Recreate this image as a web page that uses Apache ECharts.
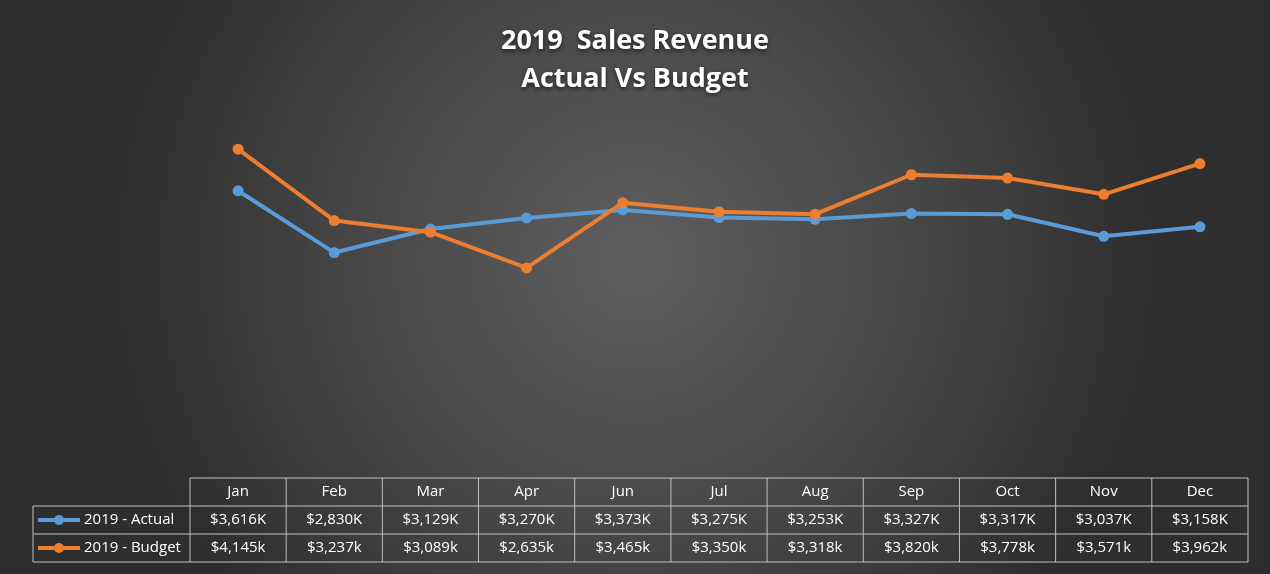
<!DOCTYPE html>
<html><head><meta charset="utf-8">
<script src="https://cdn.jsdelivr.net/npm/echarts@6/dist/echarts.min.js"></script>
<style>html,body{margin:0;padding:0;background:#333}#c{width:1270px;height:574px}</style>
</head><body><div id="c"></div>
<script>
const months = ['Jan','Feb','Mar','Apr','Jun','Jul','Aug','Sep','Oct','Nov','Dec'];
const actual = [3616,2830,3129,3270,3373,3275,3253,3327,3317,3037,3158];
const budget = [4145,3237,3089,2635,3465,3350,3318,3820,3778,3571,3962];
const actualLabels = ['$3,616K','$2,830K','$3,129K','$3,270K','$3,373K','$3,275K','$3,253K','$3,327K','$3,317K','$3,037K','$3,158K'];
const budgetLabels = ['$4,145k','$3,237k','$3,089k','$2,635k','$3,465k','$3,350k','$3,318k','$3,820k','$3,778k','$3,571k','$3,962k'];
const seriesNames = ['2019 - Actual','2019 - Budget'];
const colors = ['#5b9bd5','#ed7d31'];

const chart = echarts.init(document.getElementById('c'));
const L = 190, R = 1248, T0 = 478, RH = 28, LC = 33;
const cw = (R - L) / months.length;
const g = [];
const lineStyle = {stroke:'#bfbfbf', lineWidth:1};
function line(x1,y1,x2,y2){g.push({type:'line',shape:{x1,y1,x2,y2},style:lineStyle,silent:true});}
function txt(x,y,t,align){g.push({type:'text',x,y,style:{text:t,fill:'#fff',font:'15px "Open Sans", sans-serif',align:align||'center',verticalAlign:'middle'},silent:true});}
line(L,T0,R,T0);
line(LC,T0+RH,R,T0+RH);
line(LC,T0+2*RH,R,T0+2*RH);
line(LC,T0+3*RH,R,T0+3*RH);
line(LC,T0+RH,LC,T0+3*RH);
for(let i=0;i<=months.length;i++){line(L+i*cw,T0,L+i*cw,T0+3*RH);}
months.forEach((m,i)=>{
  txt(L+(i+0.5)*cw,T0+RH/2,m);
  txt(L+(i+0.5)*cw,T0+1.5*RH,actualLabels[i]);
  txt(L+(i+0.5)*cw,T0+2.5*RH,budgetLabels[i]);
});
[0,1].forEach(k=>{
  const y=T0+(1.5+k)*RH;
  g.push({type:'line',shape:{x1:38,y1:y,x2:80,y2:y},style:{stroke:colors[k],lineWidth:4},silent:true});
  g.push({type:'circle',shape:{cx:59,cy:y,r:5},style:{fill:colors[k]},silent:true});
  txt(84,y,seriesNames[k],'left');
});

chart.setOption({
  backgroundColor:{type:'radial',x:0.5,y:0.45,r:0.9,colorStops:[{offset:0,color:'#5e5e5e'},{offset:0.6,color:'#444444'},{offset:1,color:'#2e2e2e'}]},
  title:{text:'2019  Sales Revenue\nActual Vs Budget',left:'center',top:17,
    textStyle:{color:'#fff',fontSize:27,fontWeight:'bold',lineHeight:38,fontFamily:'"Open Sans", sans-serif',
      textShadowColor:'rgba(0,0,0,0.6)',textShadowBlur:4,textShadowOffsetY:2}},
  grid:{left:L,right:1270-R,top:82,bottom:99},
  xAxis:{type:'category',data:months,boundaryGap:true,axisLine:{show:false},axisTick:{show:false},axisLabel:{show:false}},
  yAxis:{type:'value',min:0,max:5000,show:false,splitLine:{show:false}},
  series:[
    {name:seriesNames[0],type:'line',data:actual,color:colors[0],symbol:'circle',symbolSize:11,lineStyle:{width:4}},
    {name:seriesNames[1],type:'line',data:budget,color:colors[1],symbol:'circle',symbolSize:11,lineStyle:{width:4}}
  ],
  graphic:g
});
</script></body></html>
